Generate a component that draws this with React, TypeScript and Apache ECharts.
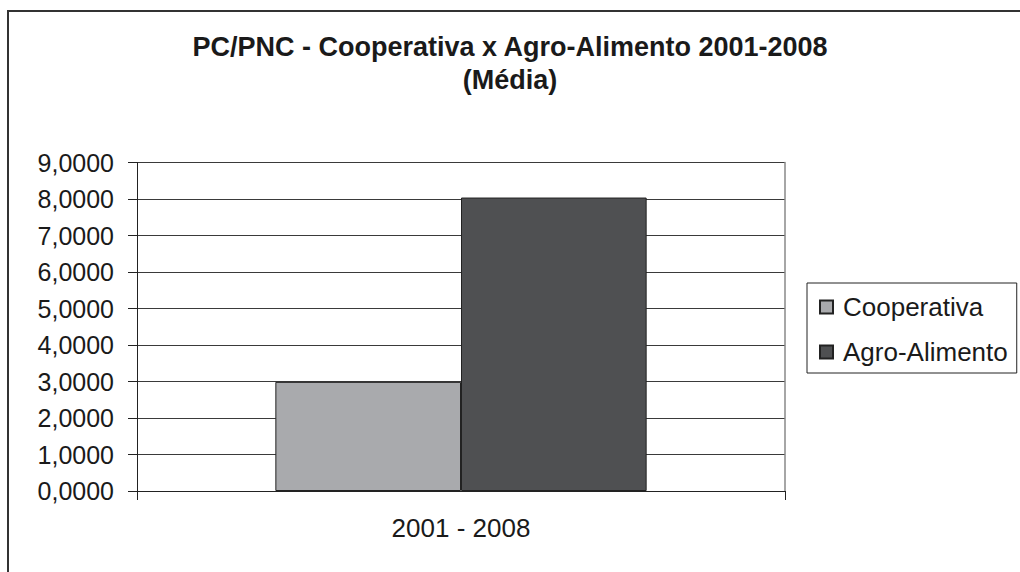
import React, { useEffect, useRef } from "react";
import * as echarts from "echarts";

const categories = ["2001 - 2008"];
const seriesNames = ["Cooperativa", "Agro-Alimento"];
const cooperativaValues = [2.99];
const agroAlimentoValues = [8.04];
const seriesColors = ["#a9aaad", "#4f5052"];
const titleLines = ["PC/PNC - Cooperativa x Agro-Alimento 2001-2008", "(Média)"];

export default function App() {
  const ref = useRef<HTMLDivElement>(null);
  useEffect(() => {
    if (!ref.current) return;
    const chart = echarts.init(ref.current, null, { renderer: "svg" });
    const font = "'Liberation Sans', Arial, sans-serif";
    chart.setOption({
      animation: false,
      backgroundColor: "#ffffff",
      textStyle: { fontFamily: font, color: "#1a1a1a" },
      title: {
        text: titleLines.join("\n"),
        left: "center",
        top: 25,
        textStyle: {
          fontFamily: font,
          fontWeight: "bold",
          fontSize: 27,
          lineHeight: 33,
          color: "#1a1a1a",
        },
      },
      graphic: [
        {
          type: "rect",
          shape: { x: 8, y: 11, width: 1040, height: 600 },
          style: { fill: "none", stroke: "#333", lineWidth: 2 },
          silent: true,
        },
      ],
      legend: {
        orient: "vertical",
        left: 807,
        top: 283,
        padding: [9, 9, 6, 12],
        itemGap: 15,
        itemWidth: 13,
        itemHeight: 13,
        icon: "rect",
        borderColor: "#222",
        borderWidth: 1,
        textStyle: { fontFamily: font, fontSize: 26, lineHeight: 30, color: "#1a1a1a", padding: [0, 0, 0, 5] },
        data: seriesNames,
      },
      grid: { left: 137, top: 162.5, right: 235, bottom: 81, containLabel: false },
      xAxis: {
        type: "category",
        data: categories,
        axisLine: { show: true, lineStyle: { color: "#222", width: 1 } },
        axisTick: { show: true, alignWithLabel: false, length: 9, inside: false, lineStyle: { color: "#222" } },
        axisLabel: { fontFamily: font, fontSize: 26, color: "#1a1a1a", margin: 24 },
        splitLine: { show: false },
      },
      yAxis: [
        {
          type: "value",
          min: 0,
          max: 9,
          interval: 1,
          axisLine: { show: true, lineStyle: { color: "#222", width: 1 } },
          axisTick: { show: true, length: 9, inside: false, lineStyle: { color: "#222" } },
          axisLabel: {
            fontFamily: font,
            fontSize: 25,
            color: "#1a1a1a",
            margin: 23,
            formatter: (v: number) => v.toFixed(4).replace(".", ","),
          },
          splitLine: { show: true, lineStyle: { color: "#3a3a3a", width: 1 } },
        },
        {
          type: "value",
          position: "right",
          min: 0,
          max: 9,
          interval: 1,
          axisLine: { show: true, lineStyle: { color: "#888", width: 1.5 } },
          axisTick: { show: false },
          axisLabel: { show: false },
          splitLine: { show: false },
        },
      ],
      series: [
        {
          name: seriesNames[0],
          type: "bar",
          data: cooperativaValues,
          barGap: "0%",
          barCategoryGap: "42.7%",
          itemStyle: { color: seriesColors[0], borderColor: "#222", borderWidth: 1 },
        },
        {
          name: seriesNames[1],
          type: "bar",
          data: agroAlimentoValues,
          barGap: "0%",
          barCategoryGap: "42.7%",
          itemStyle: { color: seriesColors[1], borderColor: "#222", borderWidth: 1 },
        },
      ],
    });
    return () => chart.dispose();
  }, []);
  return (
    <div
      ref={ref}
      style={{ position: "fixed", left: 0, top: 0, width: 1020, height: 572 }}
    />
  );
}
